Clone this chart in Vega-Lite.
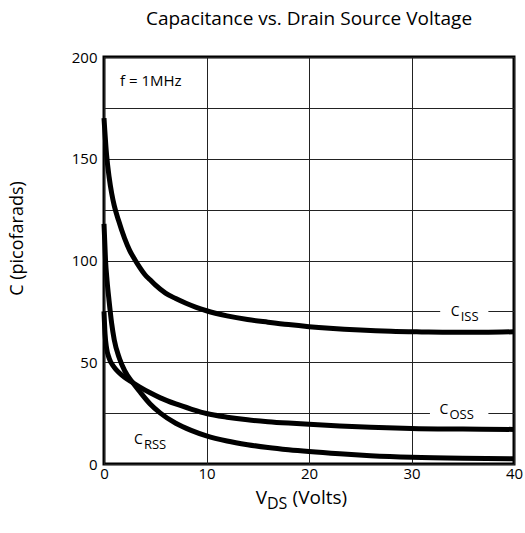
{
  "$schema": "https://vega.github.io/schema/vega-lite/v6.json",
  "width": 410,
  "height": 407,
  "autosize": {"type": "none"},
  "padding": {"left": 104, "top": 57, "right": 11, "bottom": 69},
  "background": "white",
  "title": {"text": "Capacitance vs. Drain Source Voltage", "fontSize": 19, "fontWeight": "normal", "font": "Open Sans", "color": "#000", "offset": 21, "anchor": "middle"},
  "config": {
    "font": "Open Sans",
    "view": {"stroke": "#000", "strokeWidth": 3},
    "axis": {"gridColor": "#222", "gridWidth": 1, "gridOpacity": 1, "domain": false, "ticks": false, "labelColor": "#000", "labelFont": "Open Sans", "labelFontSize": 15, "titleFont": "Open Sans", "titleColor": "#000", "titleFontWeight": "normal"}
  },
  "datasets": {
    "curves": [
      {"series": "CISS", "v": 0, "c": 170}, {"series": "CISS", "v": 0.25, "c": 152}, {"series": "CISS", "v": 0.5, "c": 141}, {"series": "CISS", "v": 0.75, "c": 133}, {"series": "CISS", "v": 1.0, "c": 127}, {"series": "CISS", "v": 1.4, "c": 120}, {"series": "CISS", "v": 2.0, "c": 111}, {"series": "CISS", "v": 2.5, "c": 105}, {"series": "CISS", "v": 3.0, "c": 100.5}, {"series": "CISS", "v": 3.5, "c": 96.5}, {"series": "CISS", "v": 4.0, "c": 93}, {"series": "CISS", "v": 4.5, "c": 90.5}, {"series": "CISS", "v": 5.0, "c": 88}, {"series": "CISS", "v": 6.0, "c": 84}, {"series": "CISS", "v": 7.0, "c": 81.3}, {"series": "CISS", "v": 8.0, "c": 79}, {"series": "CISS", "v": 9.0, "c": 77}, {"series": "CISS", "v": 10, "c": 75.3}, {"series": "CISS", "v": 12, "c": 72.8}, {"series": "CISS", "v": 14, "c": 71}, {"series": "CISS", "v": 16, "c": 69.7}, {"series": "CISS", "v": 18, "c": 68.5}, {"series": "CISS", "v": 20, "c": 67.5}, {"series": "CISS", "v": 22, "c": 66.7}, {"series": "CISS", "v": 25, "c": 65.8}, {"series": "CISS", "v": 28, "c": 65.2}, {"series": "CISS", "v": 31, "c": 64.9}, {"series": "CISS", "v": 34, "c": 64.7}, {"series": "CISS", "v": 37, "c": 64.7}, {"series": "CISS", "v": 40, "c": 65},
      {"series": "COSS", "v": 0, "c": 75}, {"series": "COSS", "v": 0.1, "c": 64}, {"series": "COSS", "v": 0.25, "c": 57}, {"series": "COSS", "v": 0.5, "c": 52}, {"series": "COSS", "v": 1.0, "c": 47.5}, {"series": "COSS", "v": 1.5, "c": 44.7}, {"series": "COSS", "v": 2.0, "c": 42.6}, {"series": "COSS", "v": 2.8, "c": 40}, {"series": "COSS", "v": 3.5, "c": 37.8}, {"series": "COSS", "v": 4.5, "c": 35}, {"series": "COSS", "v": 5.5, "c": 32.5}, {"series": "COSS", "v": 7, "c": 29.5}, {"series": "COSS", "v": 8.5, "c": 27}, {"series": "COSS", "v": 10, "c": 24.8}, {"series": "COSS", "v": 12, "c": 23}, {"series": "COSS", "v": 14, "c": 21.7}, {"series": "COSS", "v": 16, "c": 20.8}, {"series": "COSS", "v": 18, "c": 20.1}, {"series": "COSS", "v": 20, "c": 19.5}, {"series": "COSS", "v": 23, "c": 18.7}, {"series": "COSS", "v": 26, "c": 18.1}, {"series": "COSS", "v": 30, "c": 17.5}, {"series": "COSS", "v": 35, "c": 17.2}, {"series": "COSS", "v": 40, "c": 17},
      {"series": "CRSS", "v": 0, "c": 118}, {"series": "CRSS", "v": 0.15, "c": 100}, {"series": "CRSS", "v": 0.3, "c": 90}, {"series": "CRSS", "v": 0.5, "c": 80}, {"series": "CRSS", "v": 0.75, "c": 69}, {"series": "CRSS", "v": 1.0, "c": 61}, {"series": "CRSS", "v": 1.5, "c": 52}, {"series": "CRSS", "v": 2.0, "c": 46}, {"series": "CRSS", "v": 2.8, "c": 40}, {"series": "CRSS", "v": 3.5, "c": 35.5}, {"series": "CRSS", "v": 4.5, "c": 29.5}, {"series": "CRSS", "v": 5.5, "c": 25}, {"series": "CRSS", "v": 7, "c": 20}, {"series": "CRSS", "v": 8.5, "c": 16.5}, {"series": "CRSS", "v": 10, "c": 13.8}, {"series": "CRSS", "v": 12, "c": 11.3}, {"series": "CRSS", "v": 14, "c": 9.5}, {"series": "CRSS", "v": 16, "c": 8.1}, {"series": "CRSS", "v": 18, "c": 7}, {"series": "CRSS", "v": 20, "c": 6.1}, {"series": "CRSS", "v": 23, "c": 5}, {"series": "CRSS", "v": 26, "c": 4.1}, {"series": "CRSS", "v": 30, "c": 3.3}, {"series": "CRSS", "v": 35, "c": 2.8}, {"series": "CRSS", "v": 40, "c": 2.6}
    ],
    "gaps": [
      {"label": "CISS", "v": 32.8, "v2": 37.5, "c": 75},
      {"label": "COSS", "v": 31.8, "v2": 37.5, "c": 25}
    ],
    "labels": [
      {"main": "C", "sub": "ISS", "v": 34.7, "c": 74.8},
      {"main": "C", "sub": "OSS", "v": 33.6, "c": 26.5},
      {"main": "C", "sub": "RSS", "v": 3.8, "c": 11.8},
      {"main": "V", "sub": "DS", "v": 15.9, "c": -16.5}
    ],
    "notes": [
      {"text": "f = 1MHz", "v": 1.56, "c": 188, "role": "note"},
      {"text": "(Volts)", "v": 18.4, "c": -16.5, "role": "xtitle"}
    ]
  },
  "encoding": {
    "x": {"field": "v", "type": "quantitative", "scale": {"domain": [0, 40], "nice": false, "zero": false}, "axis": {"values": [0, 10, 20, 30, 40], "title": null, "labelPadding": 2, "labelFlush": false}},
    "y": {"field": "c", "type": "quantitative", "scale": {"domain": [0, 200], "nice": false}, "axis": {"values": [0, 25, 50, 75, 100, 125, 150, 175, 200], "labelExpr": "datum.value % 50 === 0 ? datum.label : ''", "labelPadding": 7, "title": "C (picofarads)", "titleFontSize": 18, "titleX": -87, "titleY": 181, "titleAlign": "center", "titleBaseline": "middle", "titleAngle": -90}}
  },
  "layer": [
    {
      "data": {"name": "gaps"},
      "mark": {"type": "rule", "color": "white", "strokeWidth": 3},
      "encoding": {"x2": {"field": "v2"}}
    },
    {
      "data": {"name": "curves"},
      "mark": {"type": "line", "color": "#000", "strokeWidth": 5, "interpolate": "monotone", "strokeCap": "butt", "clip": false},
      "encoding": {"detail": {"field": "series"}, "order": {"field": "v", "type": "quantitative"}}
    },
    {
      "data": {"name": "labels"},
      "transform": [{"filter": "datum.main !== 'V'"}],
      "mark": {"type": "text", "align": "right", "baseline": "middle", "fontSize": 14, "color": "#000"},
      "encoding": {"text": {"field": "main"}}
    },
    {
      "data": {"name": "labels"},
      "transform": [{"filter": "datum.main !== 'V'"}],
      "mark": {"type": "text", "align": "left", "baseline": "middle", "fontSize": 13, "dy": 5, "dx": 1, "color": "#000"},
      "encoding": {"text": {"field": "sub"}}
    },
    {
      "data": {"name": "labels"},
      "transform": [{"filter": "datum.main === 'V'"}],
      "mark": {"type": "text", "align": "right", "baseline": "middle", "fontSize": 19, "color": "#000"},
      "encoding": {"text": {"field": "main"}}
    },
    {
      "data": {"name": "labels"},
      "transform": [{"filter": "datum.main === 'V'"}],
      "mark": {"type": "text", "align": "left", "baseline": "middle", "fontSize": 16, "dy": 6, "color": "#000"},
      "encoding": {"text": {"field": "sub"}}
    },
    {
      "data": {"name": "notes"},
      "transform": [{"filter": "datum.role === 'note'"}],
      "mark": {"type": "text", "align": "left", "baseline": "middle", "fontSize": 15, "color": "#000"},
      "encoding": {"text": {"field": "text"}}
    },
    {
      "data": {"name": "notes"},
      "transform": [{"filter": "datum.role === 'xtitle'"}],
      "mark": {"type": "text", "align": "left", "baseline": "middle", "fontSize": 19, "color": "#000"},
      "encoding": {"text": {"field": "text"}}
    }
  ]
}
